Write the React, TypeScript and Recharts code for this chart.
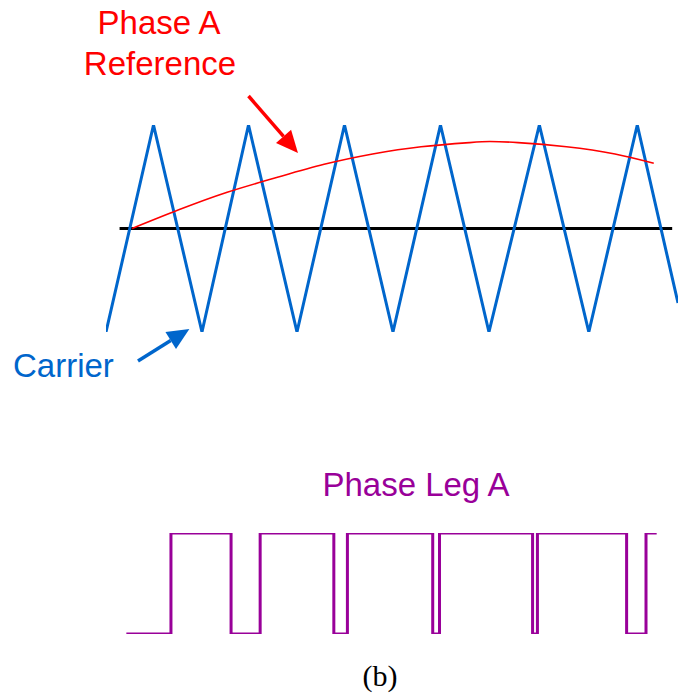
import React from 'react';
import { ComposedChart, Line, ReferenceLine, XAxis, YAxis } from 'recharts';

// carrier triangle wave (time in carrier periods, value in p.u.)
const carrierTime = [0, 0.49, 0.99, 1.47, 1.97, 2.46, 2.96, 3.45, 3.95, 4.47, 4.98, 5.48, 5.9];
const carrierValue = [-1, 1, -1, 1, -1, 1, -1, 1, -1, 1, -1, 1, -0.72];

// phase A sinusoidal reference
const refTime = [0.27, 0.75, 1.25, 1.75, 2.25, 2.75, 3.25, 3.75, 3.96, 4.25, 4.75, 5.25, 5.65];
const refValue = [0, 0.18, 0.35, 0.49, 0.62, 0.72, 0.79, 0.83, 0.84, 0.83, 0.79, 0.72, 0.63];

// zero axis
const zeroTime = [0.14, 5.84];
const zeroValue = [0, 0];

// phase leg A switching state
const pwmTime = [0.21, 0.67, 1.29, 1.59, 2.35, 2.49, 3.37, 3.44, 4.4, 4.45, 5.37, 5.57, 5.68];
const pwmLevel = [0, 1, 0, 1, 0, 1, 0, 1, 0, 1, 0, 1, 1];

const T_DOMAIN: [number, number] = [0, 5.9];

const toPoints = (t: number[], v: number[]) => t.map((x, i) => ({ t: x, v: v[i] }));

const carrierData = toPoints(carrierTime, carrierValue);
const refData = toPoints(refTime, refValue);
const zeroData = toPoints(zeroTime, zeroValue);
const pwmData = toPoints(pwmTime, pwmLevel);

const BLUE = '#0066CC';
const RED = '#FF0000';
const PURPLE = '#990099';
const FONT = '"Liberation Sans", Arial, sans-serif';

function arrowShape(color: string, width: number) {
  return (props: any) => {
    const { x1, y1, x2, y2 } = props;
    if ([x1, y1, x2, y2].some((n) => typeof n !== 'number')) return <g />;
    const dx = x2 - x1;
    const dy = y2 - y1;
    const len = Math.sqrt(dx * dx + dy * dy);
    const ux = dx / len;
    const uy = dy / len;
    const headLen = 22;
    const headHalf = 10;
    const bx = x2 - ux * headLen;
    const by = y2 - uy * headLen;
    const pts = [
      `${x2},${y2}`,
      `${bx - uy * headHalf},${by + ux * headHalf}`,
      `${bx + uy * headHalf},${by - ux * headHalf}`,
    ].join(' ');
    return (
      <g>
        <line x1={x1} y1={y1} x2={bx} y2={by} stroke={color} strokeWidth={width} />
        <polygon points={pts} fill={color} />
      </g>
    );
  };
}

export default function App() {
  return (
    <div
      style={{
        position: 'absolute',
        left: 0,
        top: 0,
        width: 678,
        height: 696,
        background: '#fff',
        overflow: 'hidden',
      }}
    >
      <div style={{ position: 'absolute', left: 0, top: 0 }}>
        <ComposedChart width={678} height={400} margin={{ top: 125, right: 0, bottom: 68, left: 106 }}>
          <XAxis dataKey='t' type='number' domain={T_DOMAIN} allowDataOverflow hide />
          <YAxis dataKey='v' type='number' domain={[-1, 1]} allowDataOverflow hide />
          <Line
            data={zeroData}
            dataKey='v'
            type='linear'
            stroke='#000'
            strokeWidth={3}
            dot={false}
            isAnimationActive={false}
          />
          <Line
            data={carrierData}
            dataKey='v'
            type='linear'
            stroke={BLUE}
            strokeWidth={3}
            dot={false}
            isAnimationActive={false}
          />
          <Line
            data={refData}
            dataKey='v'
            type='natural'
            stroke={RED}
            strokeWidth={1.6}
            dot={false}
            isAnimationActive={false}
          />
          <ReferenceLine
            segment={[
              { x: 1.47, y: 1.28 },
              { x: 1.98, y: 0.73 },
            ]}
            ifOverflow='visible'
            shape={arrowShape(RED, 3.5)}
          />
          <ReferenceLine
            segment={[
              { x: 0.33, y: -1.28 },
              { x: 0.86, y: -0.97 },
            ]}
            ifOverflow='visible'
            shape={arrowShape(BLUE, 3.5)}
          />
        </ComposedChart>
      </div>
      <div style={{ position: 'absolute', left: 0, top: 400 }}>
        <ComposedChart width={678} height={296} margin={{ top: 133, right: 0, bottom: 62, left: 106 }}>
          <XAxis dataKey='t' type='number' domain={T_DOMAIN} allowDataOverflow hide />
          <YAxis dataKey='v' type='number' domain={[0, 1]} allowDataOverflow hide />
          <Line
            data={pwmData}
            dataKey='v'
            type='stepAfter'
            stroke={PURPLE}
            strokeWidth={3}
            dot={false}
            isAnimationActive={false}
          />
        </ComposedChart>
      </div>
      <svg
        width={678}
        height={696}
        style={{ position: 'absolute', left: 0, top: 0, pointerEvents: 'none' }}
      >
        <text x={159} y={34} textAnchor='middle' fill={RED} fontFamily={FONT} fontSize={33}>
          Phase A
        </text>
        <text x={160} y={75} textAnchor='middle' fill={RED} fontFamily={FONT} fontSize={33}>
          Reference
        </text>
        <text x={13} y={377} fill={BLUE} fontFamily={FONT} fontSize={33}>
          Carrier
        </text>
        <text x={416} y={496} textAnchor='middle' fill={PURPLE} fontFamily={FONT} fontSize={33}>
          Phase Leg A
        </text>
        <text
          x={380}
          y={686}
          textAnchor='middle'
          fill='#000'
          fontFamily='"Liberation Serif", "Times New Roman", serif'
          fontSize={30}
        >
          (b)
        </text>
      </svg>
    </div>
  );
}
